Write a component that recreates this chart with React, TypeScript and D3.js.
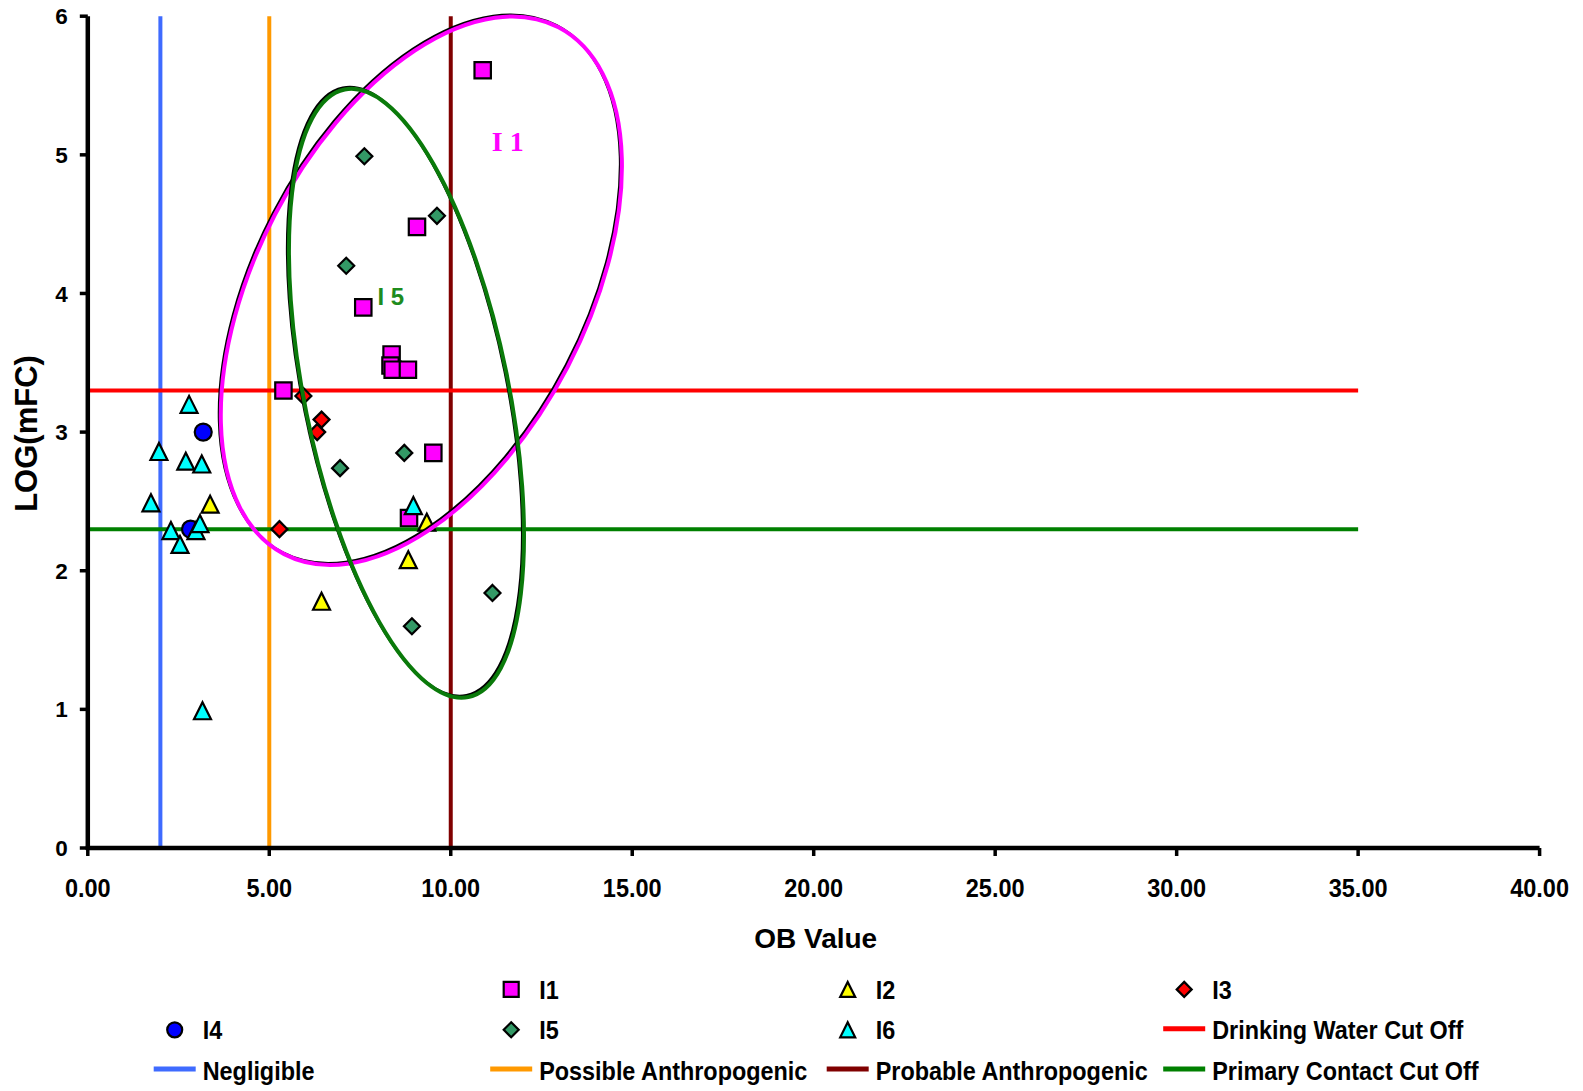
import React from 'react';
import * as d3 from 'd3';

// ---------- data ----------
const xTicks = [0, 5, 10, 15, 20, 25, 30, 35, 40];
const yTicks = [0, 1, 2, 3, 4, 5, 6];

const I1 = [[10.88, 5.61], [9.07, 4.48], [7.59, 3.90], [8.37, 3.56], [8.34, 3.48], [8.40, 3.45], [8.82, 3.45], [5.39, 3.30], [9.52, 2.85], [8.85, 2.38]];
const I2 = [[3.37, 2.48], [9.34, 2.35], [8.83, 2.08], [6.44, 1.78]];
const I3 = [[5.94, 3.26], [6.44, 3.09], [6.32, 3.00], [5.28, 2.30]];
const I4 = [[3.18, 3.00], [2.83, 2.30]];
const I5 = [[7.62, 4.99], [9.62, 4.56], [7.12, 4.20], [8.72, 2.85], [6.95, 2.74], [11.15, 1.84], [8.93, 1.60]];
const I6 = [[2.79, 3.20], [1.96, 2.86], [2.70, 2.79], [3.14, 2.77], [1.74, 2.49], [2.29, 2.29], [2.54, 2.19], [2.98, 2.29], [3.09, 2.34], [3.16, 0.99], [8.97, 2.47]];

const vLineNames = ['Negligible', 'Possible Anthropogenic', 'Probable Anthropogenic'];
const vLineX = [2, 5, 10];
const vLineColors = ['#3F6BFF', '#FF9900', '#800000'];

const hLineNames = ['Drinking Water Cut Off', 'Primary Contact Cut Off'];
const hLineY = [3.3, 2.3];
const hLineColors = ['#FF0000', '#008000'];
const hLineXRange = [0, 35];

// ellipse annotations: centre in data units, semi-axes in px, rotation deg
const ellipseNames = ['I 1', 'I 5'];
const ellipseCenters = [[9.19, 4.02], [8.78, 3.28]];
const ellipseAxes = [[297, 165], [310, 102]];
const ellipseAngles = [-62.5, 78.5];
const ellipseColors = ['#FF00FF', '#0A7A0A'];
const ellipseLabelPos = [[11.57, 5.03], [8.35, 3.92]];
const ellipseLabelColors = ['#FF00FF', '#1E8C1E'];

const W = 1583, H = 1091;
const M = { left: 87.8, right: 1539.6, top: 16.2, bottom: 848 };

type Shape = 'square' | 'triangle' | 'diamond' | 'circle';
const seriesList: { name: string; data: number[][]; shape: Shape; fill: string }[] = [
  { name: 'I1', data: I1, shape: 'square', fill: '#FF00FF' },
  { name: 'I2', data: I2, shape: 'triangle', fill: '#FFFF00' },
  { name: 'I3', data: I3, shape: 'diamond', fill: '#FF0000' },
  { name: 'I4', data: I4, shape: 'circle', fill: '#0000FF' },
  { name: 'I5', data: I5, shape: 'diamond', fill: '#339966' },
  { name: 'I6', data: I6, shape: 'triangle', fill: '#00FFFF' },
];

function shapePath(shape: Shape, r: number) {
  const p = d3.path();
  if (shape === 'square') {
    p.rect(-r, -r, 2 * r, 2 * r);
  } else if (shape === 'triangle') {
    p.moveTo(0, -r); p.lineTo(r, r); p.lineTo(-r, r); p.closePath();
  } else if (shape === 'diamond') {
    p.moveTo(0, -r); p.lineTo(r, 0); p.lineTo(0, r); p.lineTo(-r, 0); p.closePath();
  } else {
    p.arc(0, 0, r, 0, Math.PI * 2);
  }
  return p.toString();
}
const shapeSize: Record<Shape, number> = { square: 8.2, triangle: 8.5, diamond: 8, circle: 8.5 };

const FONT = "Arial, 'Liberation Sans', sans-serif";

export default function App() {
  const x = d3.scaleLinear().domain([0, 40]).range([M.left, M.right]);
  const y = d3.scaleLinear().domain([0, 6]).range([M.bottom, M.top]);

  const legendItems: ({ kind: 'marker'; name: string; shape: Shape; fill: string } | { kind: 'line'; name: string; color: string } | null)[] = [
    null,
    { kind: 'marker', name: 'I1', shape: 'square', fill: '#FF00FF' },
    { kind: 'marker', name: 'I2', shape: 'triangle', fill: '#FFFF00' },
    { kind: 'marker', name: 'I3', shape: 'diamond', fill: '#FF0000' },
    { kind: 'marker', name: 'I4', shape: 'circle', fill: '#0000FF' },
    { kind: 'marker', name: 'I5', shape: 'diamond', fill: '#339966' },
    { kind: 'marker', name: 'I6', shape: 'triangle', fill: '#00FFFF' },
    { kind: 'line', name: hLineNames[0], color: hLineColors[0] },
    { kind: 'line', name: vLineNames[0], color: vLineColors[0] },
    { kind: 'line', name: vLineNames[1], color: vLineColors[1] },
    { kind: 'line', name: vLineNames[2], color: vLineColors[2] },
    { kind: 'line', name: hLineNames[1], color: hLineColors[1] },
  ];
  const colX = [174.7, 511.2, 847.7, 1184.2];
  const rowY = [989.4, 1029.8, 1070.1];

  return (
    <svg width={W} height={H} style={{ position: 'absolute', left: 0, top: 0, background: '#fff' }} fontFamily={FONT}>
      <rect width={W} height={H} fill="#fff" />
      {/* reference lines */}
      {vLineX.map((v, i) => (
        <line key={'v' + i} x1={x(v)} x2={x(v)} y1={y(0)} y2={y(6)} stroke={vLineColors[i]} strokeWidth={4} />
      ))}
      {hLineY.map((v, i) => (
        <line key={'h' + i} x1={x(hLineXRange[0])} x2={x(hLineXRange[1])} y1={y(v)} y2={y(v)} stroke={hLineColors[i]} strokeWidth={4} />
      ))}

      {/* axes */}
      <line x1={x(0)} x2={x(0)} y1={y(0) + 2} y2={y(6)} stroke="#000" strokeWidth={4.5} />
      <line x1={x(0) - 2} x2={x(40)} y1={y(0)} y2={y(0)} stroke="#000" strokeWidth={4.5} />
      {yTicks.map((t) => (
        <g key={'yt' + t}>
          <line x1={x(0) - 8} x2={x(0)} y1={y(t)} y2={y(t)} stroke="#000" strokeWidth={3.5} />
          <text x={x(0) - 20} y={y(t)} dy="0.36em" textAnchor="end" fontSize={22.5} fontWeight="bold">{t}</text>
        </g>
      ))}
      {xTicks.map((t) => (
        <g key={'xt' + t}>
          <line x1={x(t)} x2={x(t)} y1={y(0)} y2={y(0) + 8} stroke="#000" strokeWidth={3.5} />
          <text transform={`translate(${x(t)},${y(0) + 49}) scale(0.94,1)`} textAnchor="middle" fontSize={25} fontWeight="bold">{d3.format('.2f')(t)}</text>
        </g>
      ))}
      <text x={(M.left + M.right) / 2 + 2} y={948} textAnchor="middle" fontSize={28} fontWeight="bold">OB Value</text>
      <text transform={`translate(37,433.5) rotate(-90)`} textAnchor="middle" fontSize={31} fontWeight="bold">LOG(mFC)</text>

      {/* series markers */}
      {seriesList.map((s) => (
        <g key={s.name}>
          {s.data.map((d, i) => (
            <path key={i} d={shapePath(s.shape, shapeSize[s.shape])} transform={`translate(${x(d[0])},${y(d[1])})`} fill={s.fill} stroke="#000" strokeWidth={2.2} strokeLinejoin="miter" />
          ))}
        </g>
      ))}

      {/* ellipse annotations */}
      {ellipseCenters.map((c, i) => (
        <g key={'e' + i}>
          <ellipse cx={x(c[0]) - 1.8} cy={y(c[1]) - 1.8} rx={ellipseAxes[i][0]} ry={ellipseAxes[i][1]} transform={`rotate(${ellipseAngles[i]},${x(c[0]) - 1.8},${y(c[1]) - 1.8})`} fill="none" stroke="#000" strokeWidth={2.5} />
          <ellipse cx={x(c[0])} cy={y(c[1])} rx={ellipseAxes[i][0]} ry={ellipseAxes[i][1]} transform={`rotate(${ellipseAngles[i]},${x(c[0])},${y(c[1])})`} fill="none" stroke={ellipseColors[i]} strokeWidth={4} />
        </g>
      ))}
      <text x={x(ellipseLabelPos[0][0])} y={y(ellipseLabelPos[0][1])} textAnchor="middle" fontSize={28} fontWeight="bold" fontFamily="'Liberation Serif', 'Times New Roman', serif" fill={ellipseLabelColors[0]}>{ellipseNames[0]}</text>
      <text x={x(ellipseLabelPos[1][0])} y={y(ellipseLabelPos[1][1])} textAnchor="middle" fontSize={24} fontWeight="bold" fill={ellipseLabelColors[1]}>{ellipseNames[1]}</text>

      {/* legend */}
      {legendItems.map((it, k) => {
        if (!it) return null;
        const cx = colX[k % 4];
        const cy = rowY[Math.floor(k / 4)];
        return (
          <g key={'lg' + k}>
            {it.kind === 'marker' ? (
              <path d={shapePath(it.shape, 7.5)} transform={`translate(${cx},${cy})`} fill={it.fill} stroke="#000" strokeWidth={2.2} />
            ) : (
              <line x1={cx - 21} x2={cx + 21} y1={cy - 1} y2={cy - 1} stroke={it.color} strokeWidth={5} />
            )}
            <text transform={`translate(${cx + 28},${cy + 9.5}) scale(0.9,1)`} fontSize={26} fontWeight="bold">{it.name}</text>
          </g>
        );
      })}
    </svg>
  );
}
